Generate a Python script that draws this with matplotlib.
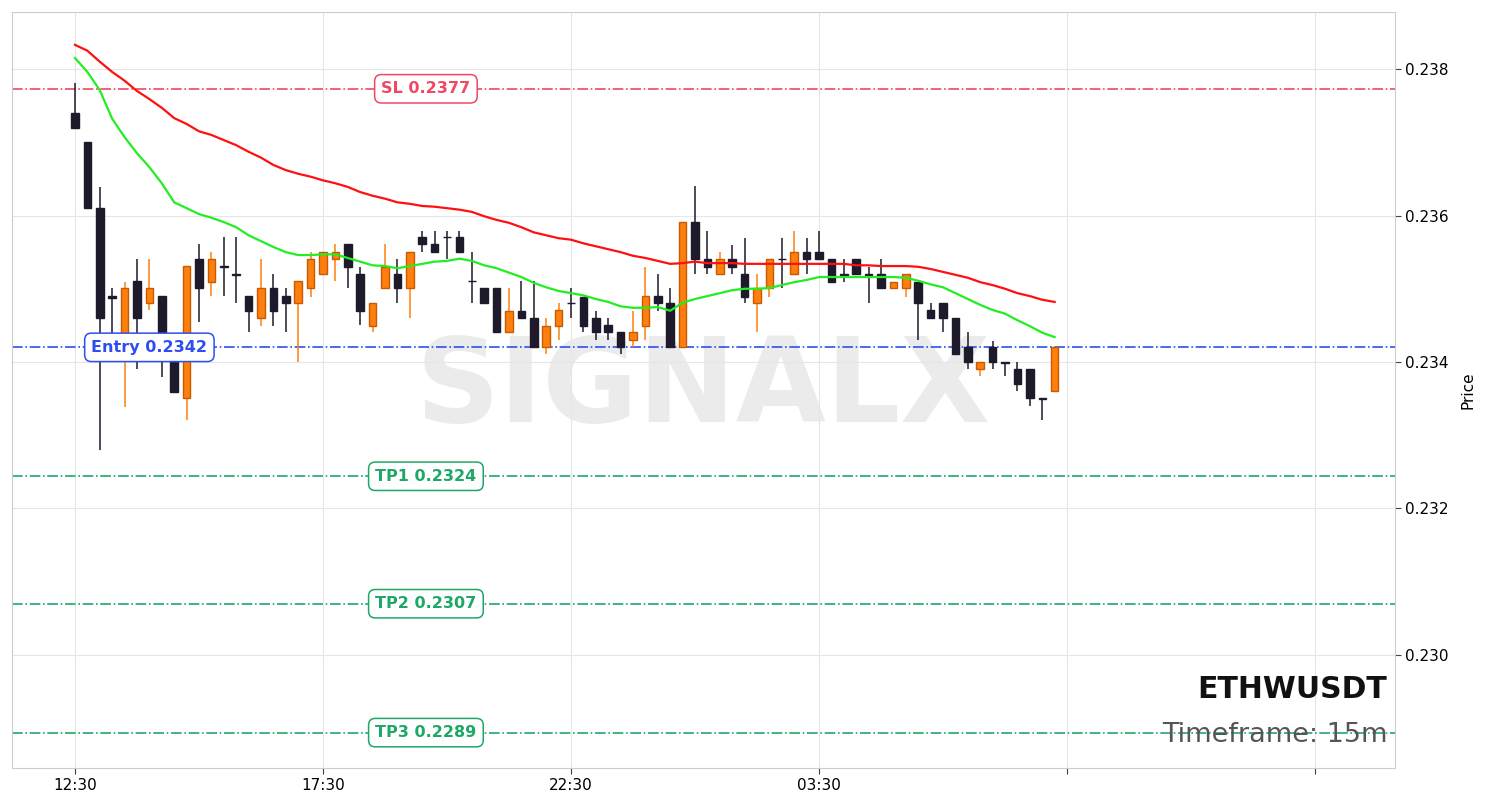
import matplotlib
matplotlib.use("Agg")
import matplotlib.pyplot as plt
import numpy as np
import pandas as pd

# 15m candles, ETHWUSDT
opens = [0.23740, 0.23700, 0.23610, 0.23490, 0.23423, 0.23511, 0.23481, 0.23490, 0.23423, 0.23351,
         0.23541, 0.23509, 0.23531, 0.23520, 0.23490, 0.23460, 0.23501, 0.23490, 0.23481, 0.23501,
         0.23520, 0.23541, 0.23561, 0.23520, 0.23449, 0.23501, 0.23520, 0.23501, 0.23571, 0.23561,
         0.23571, 0.23571, 0.23511, 0.23501, 0.23501, 0.23441, 0.23470, 0.23460, 0.23420, 0.23449,
         0.23481, 0.23489, 0.23460, 0.23451, 0.23441, 0.23430, 0.23449, 0.23490, 0.23481, 0.23420,
         0.23591, 0.23541, 0.23520, 0.23541, 0.23520, 0.23481, 0.23501, 0.23541, 0.23520, 0.23550,
         0.23550, 0.23541, 0.23520, 0.23541, 0.23520, 0.23520, 0.23501, 0.23501, 0.23509, 0.23471,
         0.23481, 0.23460, 0.23420, 0.23390, 0.23420, 0.23400, 0.23390, 0.23390, 0.23351, 0.23360]
highs = [0.23781, 0.23700, 0.23639, 0.23501, 0.23509, 0.23541, 0.23541, 0.23490, 0.23423, 0.23531,
         0.23561, 0.23550, 0.23571, 0.23571, 0.23490, 0.23541, 0.23520, 0.23501, 0.23511, 0.23550,
         0.23550, 0.23561, 0.23561, 0.23530, 0.23481, 0.23561, 0.23541, 0.23550, 0.23579, 0.23579,
         0.23579, 0.23579, 0.23550, 0.23501, 0.23501, 0.23501, 0.23511, 0.23511, 0.23460, 0.23481,
         0.23501, 0.23489, 0.23470, 0.23460, 0.23441, 0.23470, 0.23530, 0.23520, 0.23501, 0.23591,
         0.23640, 0.23579, 0.23550, 0.23560, 0.23569, 0.23520, 0.23541, 0.23569, 0.23579, 0.23569,
         0.23579, 0.23541, 0.23541, 0.23541, 0.23530, 0.23541, 0.23509, 0.23520, 0.23509, 0.23481,
         0.23481, 0.23460, 0.23441, 0.23400, 0.23429, 0.23400, 0.23400, 0.23390, 0.23351, 0.23420]
lows = [0.23719, 0.23610, 0.23280, 0.23435, 0.23339, 0.23390, 0.23471, 0.23380, 0.23359, 0.23321,
        0.23455, 0.23490, 0.23490, 0.23481, 0.23441, 0.23449, 0.23449, 0.23441, 0.23400, 0.23489,
        0.23520, 0.23511, 0.23501, 0.23451, 0.23441, 0.23501, 0.23481, 0.23460, 0.23550, 0.23550,
        0.23541, 0.23550, 0.23481, 0.23481, 0.23441, 0.23441, 0.23460, 0.23420, 0.23411, 0.23430,
        0.23460, 0.23441, 0.23430, 0.23430, 0.23411, 0.23420, 0.23430, 0.23470, 0.23420, 0.23420,
        0.23520, 0.23520, 0.23520, 0.23520, 0.23481, 0.23441, 0.23489, 0.23501, 0.23520, 0.23520,
        0.23541, 0.23509, 0.23509, 0.23520, 0.23481, 0.23501, 0.23501, 0.23489, 0.23430, 0.23460,
        0.23441, 0.23411, 0.23390, 0.23381, 0.23390, 0.23381, 0.23360, 0.23340, 0.23321, 0.23360]
closes = [0.23719, 0.23610, 0.23460, 0.23488, 0.23501, 0.23460, 0.23501, 0.23423, 0.23359, 0.23531,
          0.23501, 0.23541, 0.23530, 0.23519, 0.23470, 0.23501, 0.23470, 0.23481, 0.23511, 0.23541,
          0.23550, 0.23550, 0.23530, 0.23470, 0.23481, 0.23530, 0.23501, 0.23550, 0.23561, 0.23550,
          0.23570, 0.23550, 0.23510, 0.23481, 0.23441, 0.23470, 0.23460, 0.23420, 0.23449, 0.23471,
          0.23480, 0.23449, 0.23441, 0.23441, 0.23420, 0.23441, 0.23490, 0.23481, 0.23420, 0.23591,
          0.23541, 0.23530, 0.23541, 0.23530, 0.23489, 0.23501, 0.23541, 0.23540, 0.23550, 0.23541,
          0.23541, 0.23509, 0.23519, 0.23520, 0.23519, 0.23501, 0.23509, 0.23520, 0.23481, 0.23460,
          0.23460, 0.23411, 0.23400, 0.23400, 0.23400, 0.23399, 0.23370, 0.23351, 0.23350, 0.23420]

ema_slow = [0.23833, 0.23825, 0.23810, 0.23796, 0.23784, 0.23770, 0.23759, 0.23747, 0.23733, 0.23725,
            0.23715, 0.23710, 0.23703, 0.23696, 0.23687, 0.23679, 0.23669, 0.23662, 0.23657, 0.23653,
            0.23648, 0.23644, 0.23639, 0.23632, 0.23627, 0.23623, 0.23618, 0.23616, 0.23613, 0.23612,
            0.23610, 0.23608, 0.23605, 0.23599, 0.23594, 0.23590, 0.23584, 0.23577, 0.23573, 0.23569,
            0.23567, 0.23562, 0.23558, 0.23554, 0.23550, 0.23545, 0.23542, 0.23538, 0.23534, 0.23535,
            0.23537, 0.23535, 0.23535, 0.23535, 0.23534, 0.23534, 0.23534, 0.23534, 0.23534, 0.23534,
            0.23534, 0.23534, 0.23534, 0.23532, 0.23532, 0.23531, 0.23531, 0.23531, 0.23530, 0.23527,
            0.23523, 0.23519, 0.23515, 0.23509, 0.23505, 0.23500, 0.23494, 0.23490, 0.23485, 0.23482]
ema_fast = [0.23815, 0.23796, 0.23771, 0.23732, 0.23707, 0.23685, 0.23666, 0.23644, 0.23618, 0.23610,
            0.23602, 0.23597, 0.23591, 0.23584, 0.23573, 0.23565, 0.23557, 0.23550, 0.23546, 0.23546,
            0.23547, 0.23547, 0.23542, 0.23537, 0.23532, 0.23531, 0.23528, 0.23531, 0.23534, 0.23537,
            0.23538, 0.23541, 0.23538, 0.23532, 0.23528, 0.23522, 0.23516, 0.23508, 0.23502, 0.23497,
            0.23494, 0.23491, 0.23486, 0.23482, 0.23476, 0.23474, 0.23474, 0.23475, 0.23470, 0.23481,
            0.23486, 0.23490, 0.23494, 0.23498, 0.23500, 0.23500, 0.23501, 0.23505, 0.23509, 0.23512,
            0.23516, 0.23516, 0.23516, 0.23516, 0.23516, 0.23516, 0.23516, 0.23515, 0.23511, 0.23506,
            0.23502, 0.23494, 0.23486, 0.23478, 0.23471, 0.23466, 0.23457, 0.23449, 0.23440, 0.23434]

levels = {"SL": 0.23773, "Entry": 0.23420, "TP1": 0.23244, "TP2": 0.23070, "TP3": 0.22894}
level_text = {"SL": "SL 0.2377", "Entry": "Entry 0.2342", "TP1": "TP1 0.2324",
              "TP2": "TP2 0.2307", "TP3": "TP3 0.2289"}

times = pd.date_range("2024-01-01 12:30", periods=len(opens), freq="15min")

UP_C, UP_E = "#ff7f0e", "#c85a00"
DN_C, DN_E = "#1e1a2c", "#1e1a2c"

fig = plt.figure(figsize=(14.9, 8.08), dpi=100)
ax = fig.add_axes([0.00805, 0.0495, 0.9282, 0.9357])

x = np.arange(len(opens))
o = np.array(opens); h = np.array(highs); l = np.array(lows); c = np.array(closes)
up = c >= o

# wicks
ax.vlines(x[up], l[up], h[up], color=UP_C, lw=1.1, zorder=2)
ax.vlines(x[~up], l[~up], h[~up], color=DN_C, lw=1.1, zorder=2)
# bodies
ax.bar(x[up], c[up] - o[up], bottom=o[up], width=0.6, color=UP_C, edgecolor=UP_E, lw=1, zorder=3)
ax.bar(x[~up], c[~up] - o[~up], bottom=o[~up], width=0.6, color=DN_C, edgecolor=DN_E, lw=1, zorder=3)

ax.plot(x, ema_slow, color="#ff1010", lw=1.6, zorder=4)
ax.plot(x, ema_fast, color="#22ee22", lw=1.6, zorder=4)

colors = {"SL": "#f04864", "Entry": "#2e4ff0", "TP1": "#1ea868", "TP2": "#1ea868", "TP3": "#1ea868"}
label_x = {"SL": 28.3, "Entry": 6.0, "TP1": 28.3, "TP2": 28.3, "TP3": 28.3}
for k, v in levels.items():
    ax.axhline(v, color=colors[k], lw=1.2, ls="-.", zorder=1.5)
    ax.text(label_x[k], v, level_text[k], color=colors[k], fontsize=11.5, fontweight="bold",
            ha="center", va="center", zorder=6,
            bbox=dict(boxstyle="round,pad=0.42", fc="white", ec=colors[k], lw=1.1))

ax.text(0.5, 0.5, "SIGNALX", transform=ax.transAxes, fontsize=84, fontweight="bold",
        color="#d8d8d8", alpha=0.5, ha="center", va="center", zorder=0)

ax.text(0.9945, 0.104, "ETHWUSDT", transform=ax.transAxes, fontsize=21.5, fontweight="bold",
        color="#111111", ha="right", va="center")
ax.text(0.9945, 0.043, "Timeframe: 15m", transform=ax.transAxes, fontsize=19.5,
        color="#555555", ha="right", va="center")

ax.set_xlim(-5.08, 106.45)
ax.set_ylim(0.228457, 0.238779)
ticks = [0, 20, 40, 60, 80, 100]
ax.set_xticks(ticks)
ax.set_xticklabels([times[t].strftime("%H:%M") if t < len(times) else "" for t in ticks])
ax.set_yticks([0.230, 0.232, 0.234, 0.236, 0.238])
ax.set_yticklabels(["0.230", "0.232", "0.234", "0.236", "0.238"])
ax.yaxis.tick_right()
ax.yaxis.set_label_position("right")
ax.set_ylabel("Price", fontsize=11, labelpad=8)
ax.tick_params(labelsize=11, color="#444444", length=4)
ax.grid(True, color="#e6e6e6", lw=0.8, zorder=0)
ax.set_axisbelow(True)
for s in ax.spines.values():
    s.set_color("#cccccc")

fig.savefig("out.png", dpi=100)
